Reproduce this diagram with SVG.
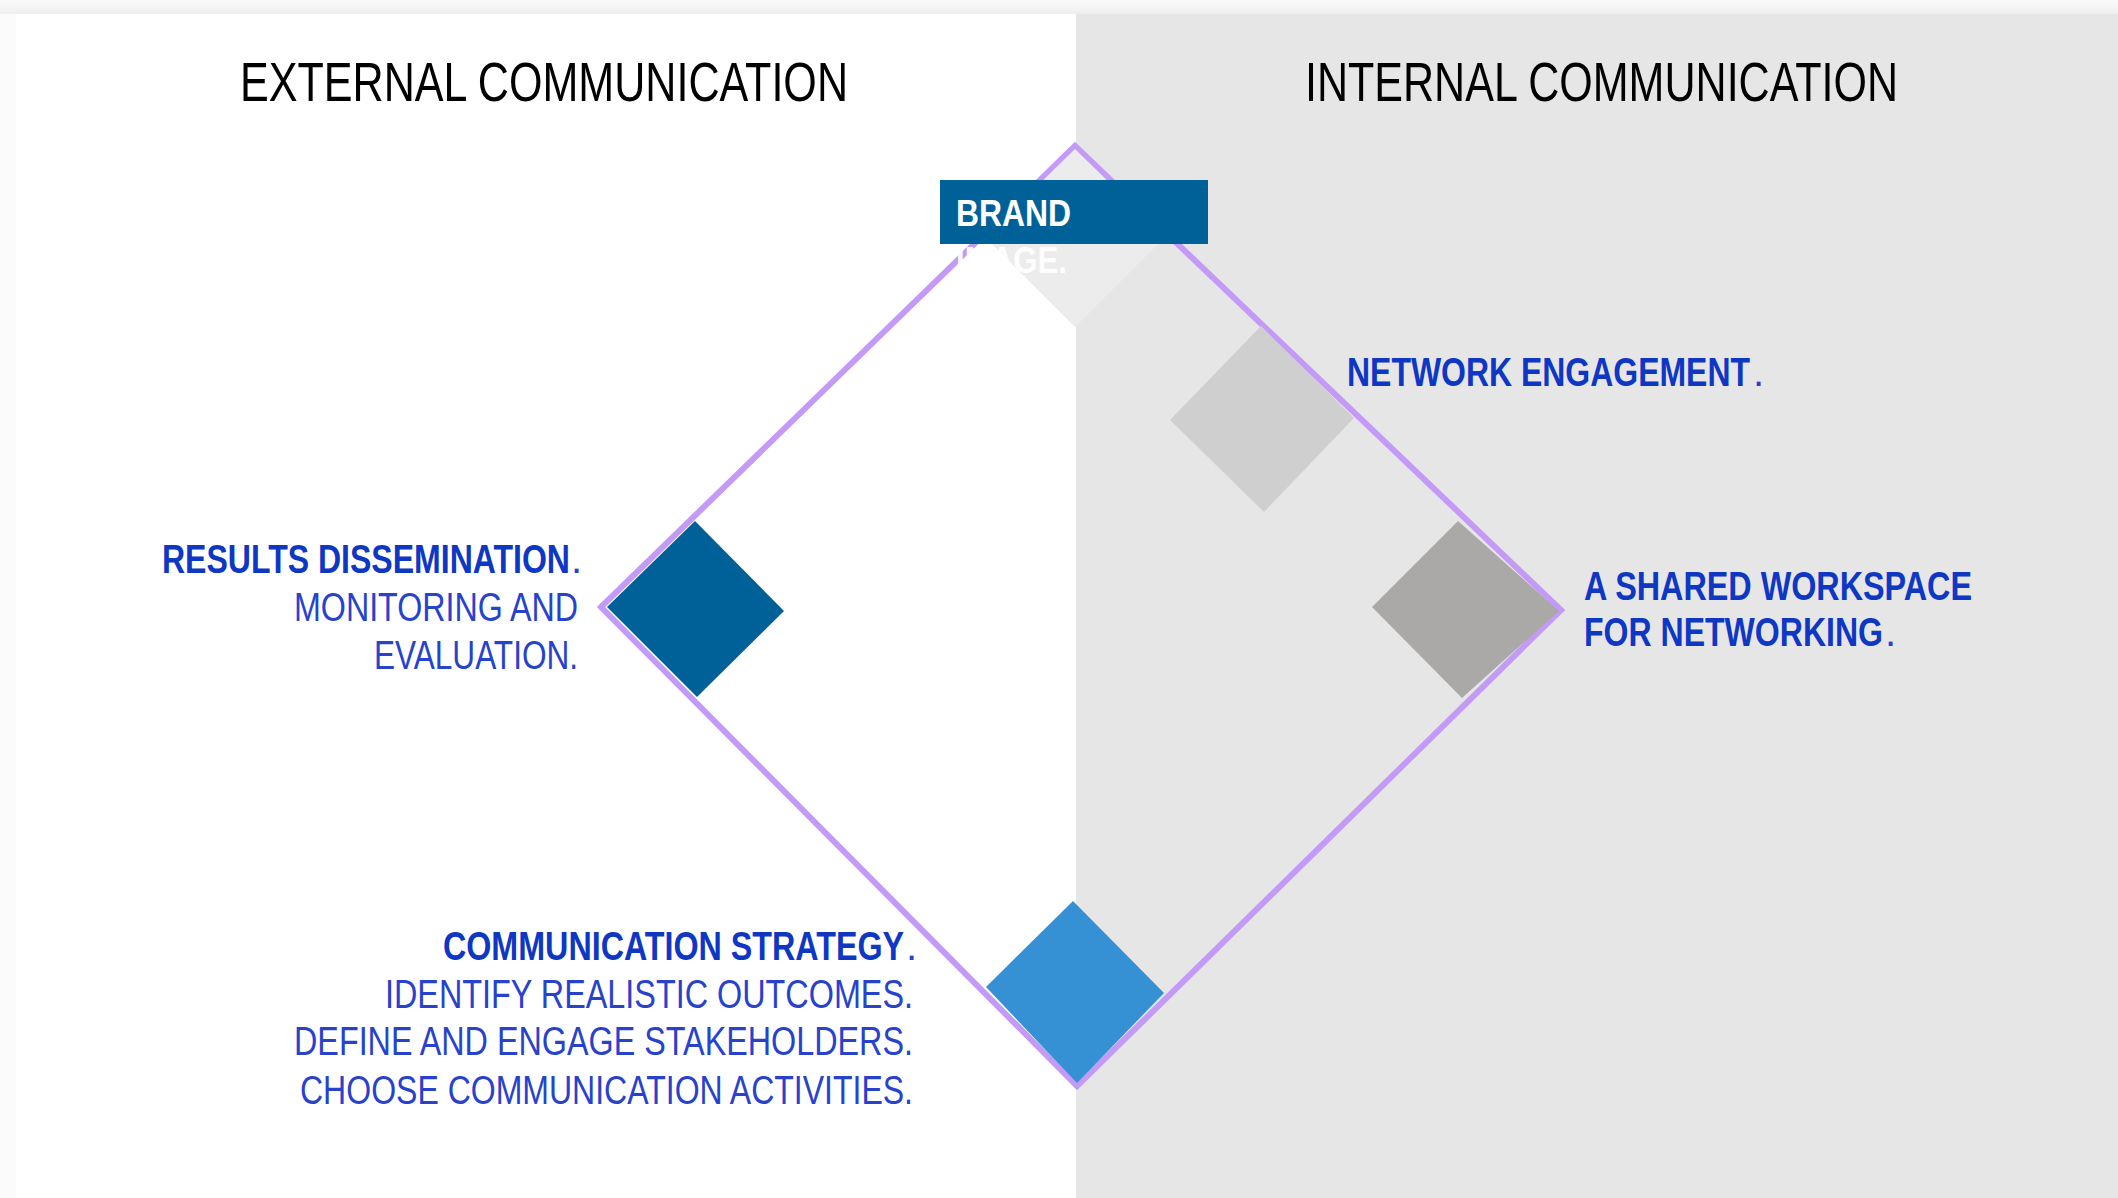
<svg xmlns="http://www.w3.org/2000/svg" width="2118" height="1198" viewBox="0 0 2118 1198">
<defs>
<linearGradient id="topShade" x1="0" y1="0" x2="0" y2="1">
<stop offset="0" stop-color="#FBFBFB"/>
<stop offset="1" stop-color="#EEEEEE"/>
</linearGradient>
<linearGradient id="leftShade" x1="0" y1="0" x2="1" y2="0">
<stop offset="0" stop-color="#FBFBFB"/>
<stop offset="1" stop-color="#F0F0F0"/>
</linearGradient>
</defs>
<style>
.title{font-family:"Liberation Sans",Arial,sans-serif;font-size:56px;fill:#000;}
.b{font-family:"Liberation Sans",Arial,sans-serif;font-size:40px;font-weight:bold;fill:#0E37C4;}
.r{font-family:"Liberation Sans",Arial,sans-serif;font-size:40px;font-weight:normal;fill:#2842CC;}
.frame{fill:none;stroke:#C49AF7;stroke-width:6;stroke-linejoin:miter;}
.brandtxt{font-family:"Liberation Sans",Arial,sans-serif;font-size:36px;font-weight:bold;fill:#FFFFFF;}
</style>
<rect x="0" y="0" width="2118" height="1198" fill="url(#leftShade)"/>
<rect x="0" y="0" width="2118" height="14" fill="url(#topShade)"/>
<rect x="16" y="14" width="1060" height="1184" fill="#FFFFFF"/>
<rect x="1076" y="14" width="1042" height="1184" fill="#E7E6E7"/>

<g id="titles">
<text class="title" x="240" y="101" textLength="608" lengthAdjust="spacingAndGlyphs">EXTERNAL COMMUNICATION</text>
<text class="title" x="1305" y="101" textLength="593" lengthAdjust="spacingAndGlyphs">INTERNAL COMMUNICATION</text>
</g>

<g id="connectors">
<polygon class="frame" points="1075,146 1561,610 1077,1086 601,607"/>
</g>

<g id="brand-image">
<polygon points="1075,149 1165,237 1075,327 985,237" fill="#ECECEC"/>
<rect x="940" y="180" width="268" height="64" fill="#006199"/>
<text class="brandtxt" x="956" y="226" textLength="115" lengthAdjust="spacingAndGlyphs">BRAND</text>
<text class="brandtxt" x="956" y="273" textLength="111" lengthAdjust="spacingAndGlyphs" fill-opacity="0.95">IMAGE.</text>
</g>

<g id="network-engagement">
<polygon points="1261,326 1354,418 1264,512 1170,420" fill="#D0CFD0"/>
<text class="b" x="1347" y="386" textLength="403" lengthAdjust="spacingAndGlyphs">NETWORK ENGAGEMENT</text>
<text class="r" x="1753" y="386">.</text>
</g>

<g id="shared-workspace">
<polygon points="1372,607 1458,521 1559,611 1462,698" fill="#ABA8A8"/>
<text class="b" x="1584" y="600" textLength="388" lengthAdjust="spacingAndGlyphs">A SHARED WORKSPACE</text>
<text class="b" x="1584" y="646" textLength="299" lengthAdjust="spacingAndGlyphs">FOR NETWORKING</text>
<text class="r" x="1885" y="646">.</text>
</g>

<g id="results-dissemination">
<polygon points="607,607 695,521 784,611 697,697" fill="#006199"/>
<text class="b" x="162" y="573" textLength="408" lengthAdjust="spacingAndGlyphs">RESULTS DISSEMINATION</text>
<text class="r" x="571" y="573">.</text>
<text class="r" x="294" y="621" textLength="284" lengthAdjust="spacingAndGlyphs">MONITORING  AND</text>
<text class="r" x="374" y="669" textLength="204" lengthAdjust="spacingAndGlyphs">EVALUATION.</text>
</g>

<g id="communication-strategy">
<polygon points="986,987 1073,901 1164,993 1077,1083" fill="#3591D3"/>
<text class="b" x="443" y="960" textLength="461" lengthAdjust="spacingAndGlyphs">COMMUNICATION  STRATEGY</text>
<text class="r" x="906" y="960">.</text>
<text class="r" x="385" y="1008" textLength="528" lengthAdjust="spacingAndGlyphs">IDENTIFY  REALISTIC  OUTCOMES.</text>
<text class="r" x="294" y="1055" textLength="619" lengthAdjust="spacingAndGlyphs">DEFINE AND ENGAGE STAKEHOLDERS.</text>
<text class="r" x="300" y="1104" textLength="613" lengthAdjust="spacingAndGlyphs">CHOOSE  COMMUNICATION  ACTIVITIES.</text>
</g>
</svg>
